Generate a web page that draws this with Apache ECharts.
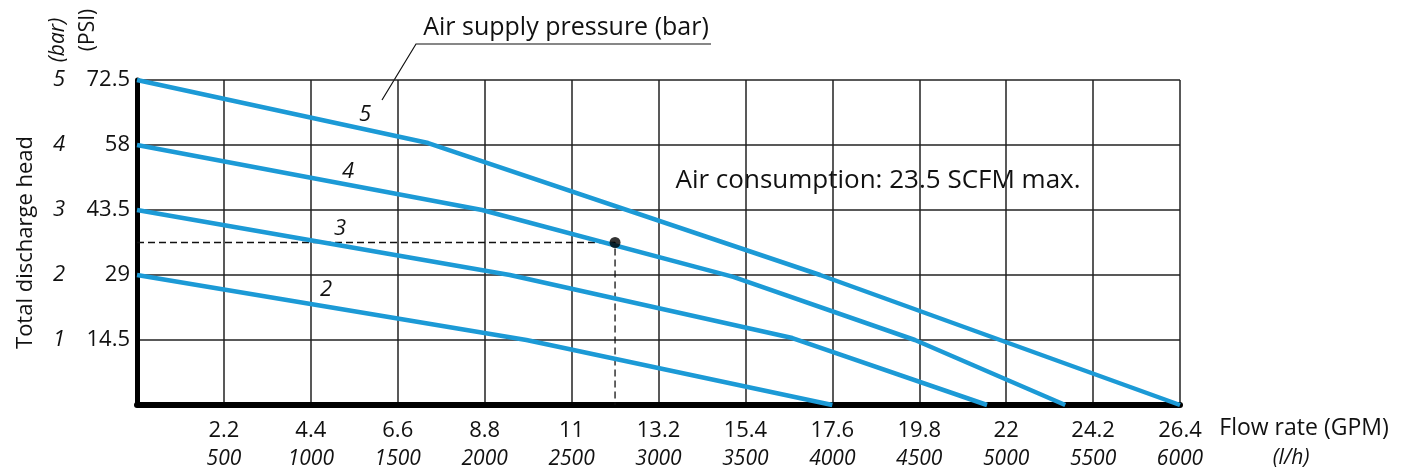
<!DOCTYPE html>
<html>
<head>
<meta charset="utf-8">
<script src="https://cdn.jsdelivr.net/npm/echarts@6/dist/echarts.min.js"></script>
<style>
  html, body { margin: 0; padding: 0; background: #fff; }
  #chart { width: 1408px; height: 472px; }
</style>
</head>
<body>
<div id="chart"></div>
<script>
// tick labels
const lhTicks = [500, 1000, 1500, 2000, 2500, 3000, 3500, 4000, 4500, 5000, 5500, 6000]
const gpmTicks = ['2.2', '4.4', '6.6', '8.8', '11', '13.2', '15.4', '17.6', '19.8', '22', '24.2', '26.4']
const barTicks = ['1', '2', '3', '4', '5']
const psiTicks = ['14.5', '29', '43.5', '58', '72.5']

// curves: [flow l/h, head bar]
const curve5 = [[0, 5], [1675, 4.03], [3930, 2.0], [6000, 0]]
const curve4 = [[0, 4], [1985, 3.0], [3430, 1.97], [4475, 1.0], [5340, 0]]
const curve3 = [[0, 3], [2145, 2.0], [3770, 1.03], [4890, 0]]
const curve2 = [[0, 2], [2240, 1.0], [4000, 0]]

// operating point
const opPoint = [2750, 2.5]

const FONT = '"Open Sans", Lato, sans-serif'
const BLUE = '#1c9ad6'
const INK = '#111'

const chart = echarts.init(document.getElementById('chart'))

const curveSeries = (data) => ({
  type: 'line',
  data: data,
  symbol: 'none',
  lineStyle: { color: BLUE, width: 4.5 },
  z: 3
})

// small helper for free text
const txt = (x, y, text, size, extra) => ({
  type: 'text',
  x: x,
  y: y,
  ...extra,
  style: {
    text: text,
    fontSize: size,
    fill: INK,
    fontFamily: FONT,
    align: 'center',
    verticalAlign: 'middle',
    ...(extra && extra.style)
  }
})

chart.setOption({
  animation: false,
  textStyle: { fontFamily: FONT },
  grid: { left: 137, right: 228, top: 80, bottom: 67 },
  xAxis: {
    type: 'value',
    min: 0,
    max: 6000,
    interval: 500,
    axisLine: { show: true, lineStyle: { color: '#000', width: 6 } },
    axisTick: { show: false },
    splitLine: { show: true, lineStyle: { color: '#222', width: 1.5 } },
    axisLabel: {
      margin: 11,
      formatter: (v) => {
        const i = lhTicks.indexOf(v)
        if (i < 0) return ''
        return '{g|' + gpmTicks[i] + '}\n{l|' + lhTicks[i] + '}'
      },
      rich: {
        g: { fontSize: 22, color: INK, fontFamily: FONT, lineHeight: 29 },
        l: { fontSize: 21, color: INK, fontFamily: FONT, fontStyle: 'italic', lineHeight: 29 }
      }
    }
  },
  yAxis: {
    type: 'value',
    min: 0,
    max: 5,
    interval: 1,
    name: 'Total discharge head',
    nameLocation: 'middle',
    nameRotate: 90,
    nameGap: 100,
    nameTextStyle: { fontSize: 22, color: INK, fontFamily: FONT },
    axisLine: { show: true, lineStyle: { color: '#000', width: 5 } },
    axisTick: { show: false },
    splitLine: { show: true, lineStyle: { color: '#222', width: 1.5 } },
    axisLabel: {
      margin: 7,
      formatter: (v) => {
        const i = v - 1
        if (i < 0) return ''
        return '{b|' + barTicks[i] + '}{p|' + psiTicks[i] + '}'
      },
      rich: {
        b: { width: 42, align: 'center', fontSize: 22, color: INK, fontStyle: 'italic', fontFamily: FONT },
        p: { width: 50, align: 'right', fontSize: 22, color: INK, fontFamily: FONT }
      }
    }
  },
  series: [
    curveSeries(curve5),
    curveSeries(curve4),
    curveSeries(curve3),
    curveSeries(curve2),
    {
      type: 'line',
      data: [[0, opPoint[1]], opPoint, [opPoint[0], 0]],
      symbol: 'none',
      lineStyle: { color: INK, width: 1.3, type: [7, 4] },
      z: 2
    },
    {
      type: 'scatter',
      data: [opPoint],
      symbolSize: 11,
      itemStyle: { color: '#000' },
      z: 4
    }
  ],
  graphic: [
    txt(566, 28, 'Air supply pressure (bar)', 25),
    { type: 'polyline', shape: { points: [[382, 100], [416, 44], [711, 44]] }, style: { stroke: INK, lineWidth: 1.2, fill: null } },
    txt(878, 181, 'Air consumption: 23.5 SCFM max.', 26),
    txt(365, 115, '5', 22, { style: { fontStyle: 'italic' } }),
    txt(348, 172, '4', 22, { style: { fontStyle: 'italic' } }),
    txt(340, 229, '3', 22, { style: { fontStyle: 'italic' } }),
    txt(326, 290, '2', 22, { style: { fontStyle: 'italic' } }),
    txt(58, 40, '(bar)', 21, { rotation: Math.PI / 2, style: { fontStyle: 'italic' } }),
    txt(88, 30, '(PSI)', 21, { rotation: Math.PI / 2 }),
    txt(1304, 428, 'Flow rate (GPM)', 23),
    txt(1291, 458, '(l/h)', 21, { style: { fontStyle: 'italic' } })
  ]
})
</script>
</body>
</html>
